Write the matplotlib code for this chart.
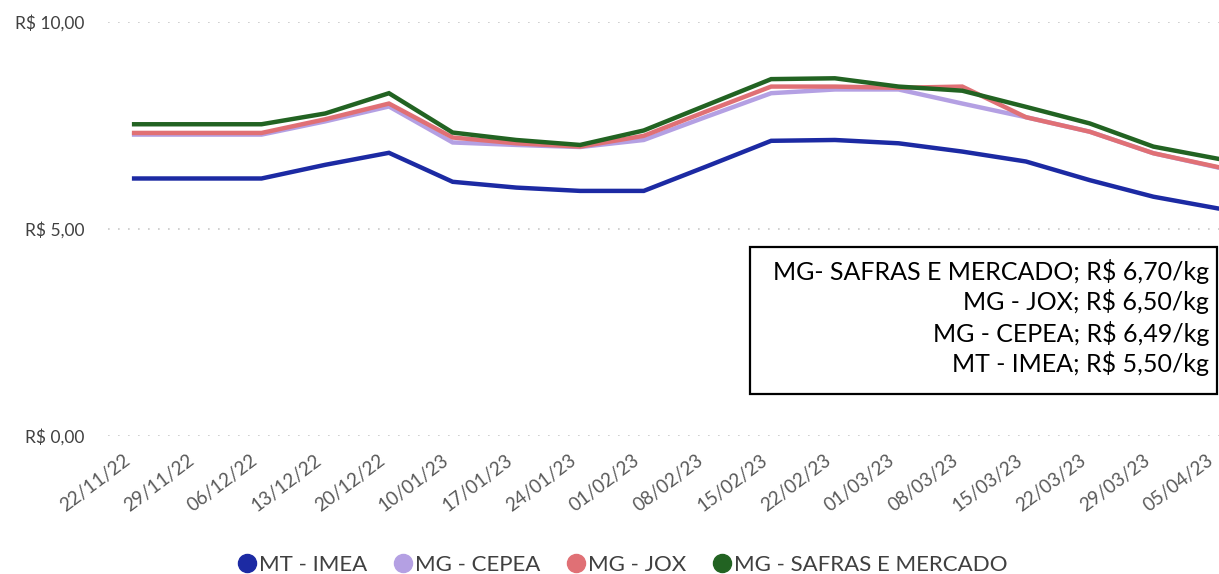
import matplotlib
matplotlib.use("Agg")
import matplotlib.pyplot as plt
import matplotlib.transforms as mtransforms
from matplotlib.patches import Rectangle
from matplotlib.lines import Line2D

plt.rcParams['font.family'] = ['Lato', 'DejaVu Sans']

datas = ["22/11/22", "29/11/22", "06/12/22", "13/12/22", "20/12/22", "10/01/23",
         "17/01/23", "24/01/23", "01/02/23", "08/02/23", "15/02/23", "22/02/23",
         "01/03/23", "08/03/23", "15/03/23", "22/03/23", "29/03/23", "05/04/23"]

mt_imea = [6.22, 6.22, 6.22, 6.55, 6.84, 6.14, 6.00, 5.92, 5.92, 6.52, 7.13, 7.15,
           7.07, 6.87, 6.63, 6.18, 5.78, 5.50]
mg_cepea = [7.28, 7.28, 7.28, 7.60, 7.96, 7.09, 7.03, 6.98, 7.15, 7.72, 8.28, 8.37,
            8.37, 8.03, 7.70, 7.35, 6.83, 6.49]
mg_jox = [7.32, 7.32, 7.32, 7.65, 8.03, 7.21, 7.07, 6.99, 7.25, 7.85, 8.44, 8.44,
          8.41, 8.44, 7.70, 7.35, 6.83, 6.50]
mg_safras = [7.53, 7.53, 7.53, 7.79, 8.28, 7.33, 7.15, 7.03, 7.38, 8.00, 8.62, 8.64,
             8.44, 8.34, 7.95, 7.55, 6.99, 6.70]

series = [
    ("MT - IMEA", mt_imea, "#1c2aa3"),
    ("MG - CEPEA", mg_cepea, "#b4a0e3"),
    ("MG - JOX", mg_jox, "#e07075"),
    ("MG - SAFRAS E MERCADO", mg_safras, "#226322"),
]

ultimos = ["MG- SAFRAS E MERCADO; R$ 6,70/kg", "MG - JOX; R$ 6,50/kg",
           "MG - CEPEA; R$ 6,49/kg", "MT - IMEA; R$ 5,50/kg"]

fig = plt.figure(figsize=(12.19, 5.74), dpi=100)
ax = fig.add_axes([0.0886, 0.2404, 0.9114, 0.7213])

x = range(len(datas))
for nome, vals, cor in series:
    ax.plot(x, vals, color=cor, lw=3.2, solid_joinstyle='miter', label=nome)

ax.set_ylim(0, 10)
ax.set_xlim(-0.41, len(datas) - 0.97)
ax.set_yticks([0, 5, 10])
ax.set_yticklabels(["R$ 0,00", "R$ 5,00", "R$ 10,00"])
ax.set_xticks(list(x))
ax.set_xticklabels(datas, rotation=37, ha='right', rotation_mode='anchor')
ax.tick_params(axis='y', length=0, labelsize=12.5, colors='#404040', pad=17)
ax.tick_params(axis='x', length=0, labelsize=13.5, colors='#595959', pad=11)
# puxa as datas um pouco para a esquerda, como no original
desloc = mtransforms.ScaledTranslation(-0.11, 0, fig.dpi_scale_trans)
for lbl in ax.get_xticklabels():
    lbl.set_transform(lbl.get_transform() + desloc)
ax.grid(axis='y', color='#c8c8c8', linestyle=(0, (1, 5)), lw=1.2)
ax.set_axisbelow(True)
for s in ax.spines.values():
    s.set_visible(False)

# caixa com os ultimos precos
fig.patches.append(Rectangle((750 / 1219, 1 - 394 / 574), 467 / 1219, 147 / 574,
                             transform=fig.transFigure, fill=True, facecolor='white',
                             edgecolor='black', lw=1.6, zorder=5))
for i, t in enumerate(ultimos):
    fig.text(1209 / 1219, 1 - (271 + 31 * i) / 574, t, ha='right', va='center',
             fontsize=18, color='black', zorder=6)

handles = [Line2D([], [], marker='o', ls='', color=c, markersize=13) for _, _, c in series]
fig.legend(handles, [n for n, _, _ in series], loc='center', bbox_to_anchor=(0.51, 1 - 565 / 574),
           ncol=4, frameon=False, fontsize=16, handletextpad=0.05, columnspacing=1.1,
           labelcolor='#404040', handlelength=1.0)

fig.savefig("out.png", dpi=100)
